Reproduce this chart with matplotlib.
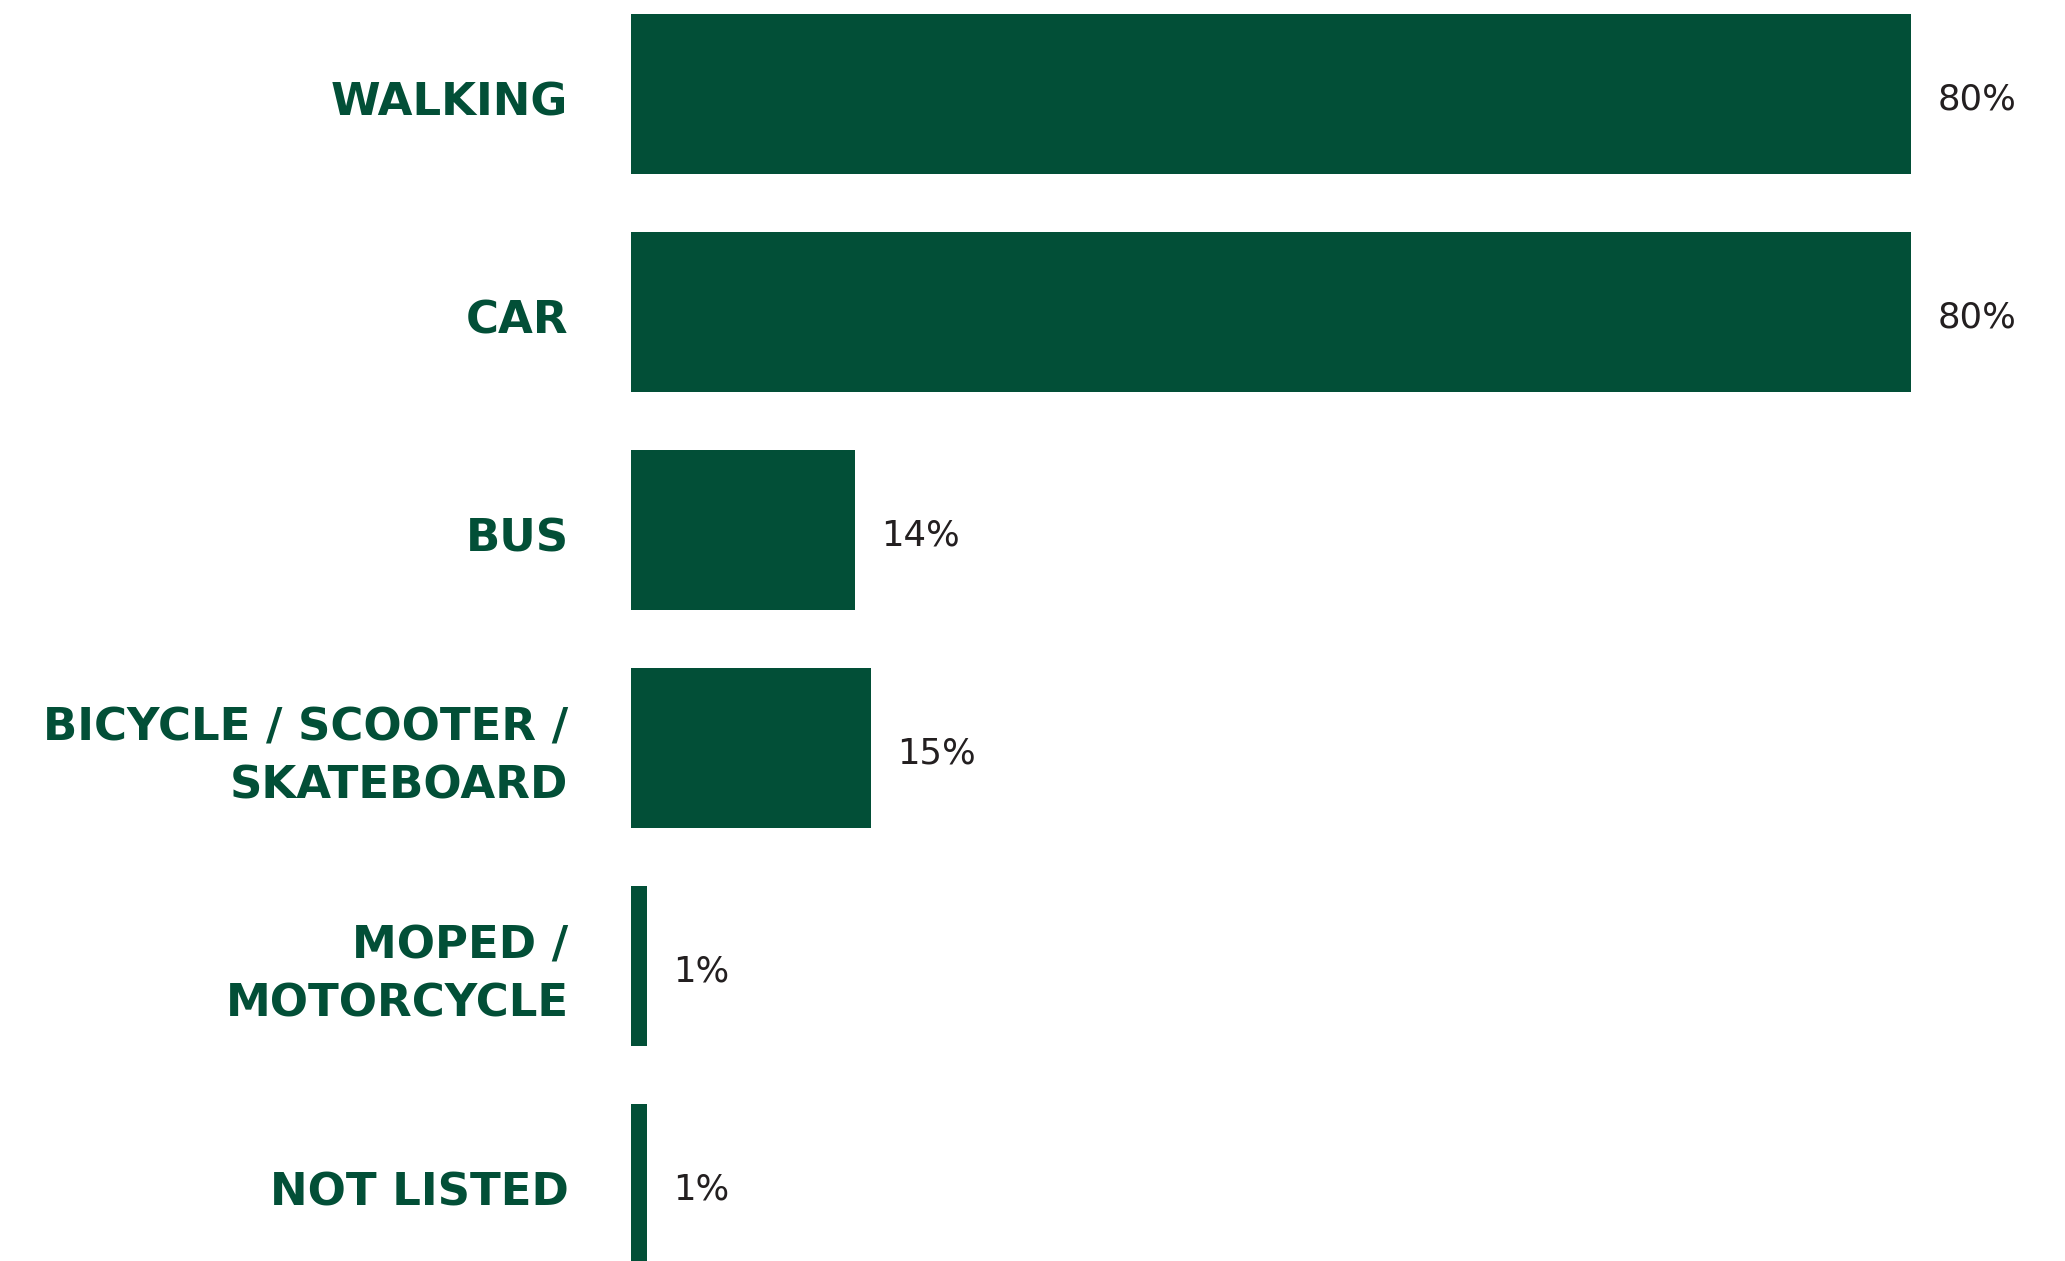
import matplotlib.pyplot as plt

# Share of respondents by travel mode
modes = ['WALKING', 'CAR', 'BUS', 'BICYCLE / SCOOTER /\nSKATEBOARD', 'MOPED /\nMOTORCYCLE', 'NOT LISTED']
shares = [80, 80, 14, 15, 1, 1]

green = '#024F37'
dark = '#231F20'

fig = plt.figure(figsize=(20.65, 12.61), dpi=100)
ax = fig.add_axes([631 / 2065, 0, 1 - 631 / 2065, 1])

ypos = list(range(len(modes)))
ax.barh(ypos, shares, height=160 / 218, color=green)

ax.set_xlim(0, (2065 - 631) / 16)
ax.set_ylim(5.353, -0.431)

for y, v, name in zip(ypos, shares, modes):
    # value label just right of the bar
    ax.annotate(f'{v}%', (v, y), xytext=(19, -4), textcoords='offset points',
                ha='left', va='center', fontsize=25.6, color=dark, family='DejaVu Sans')
    # category label left of the axis
    ax.annotate(name, (0, y), xytext=(-45, -6.5), textcoords='offset points',
                ha='right', va='center', multialignment='right', linespacing=1.45,
                fontsize=32.4, fontweight='bold', color=green, family='DejaVu Sans')

ax.set_yticks([])
ax.set_xticks([])
for s in ax.spines.values():
    s.set_visible(False)

fig.savefig('out.png', dpi=100)
